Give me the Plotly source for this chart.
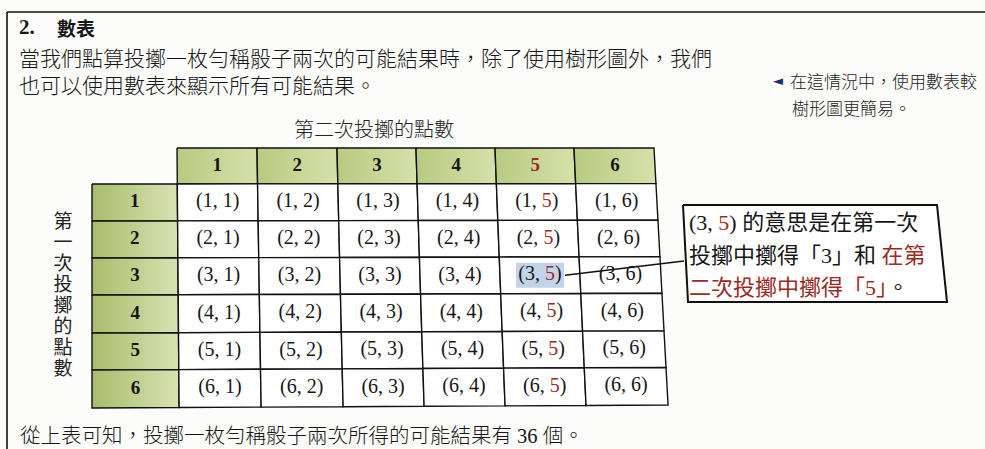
import plotly.graph_objects as go

# ---------------- data ----------------
FIRST_ROLL = [1, 2, 3, 4, 5, 6]          # rows
SECOND_ROLL = [1, 2, 3, 4, 5, 6]         # columns
RED_VALUE = 5                            # second-roll value printed in red
EXAMPLE_CELL = (3, 5)                    # highlighted outcome

TITLE_NUM = "2."
TITLE_TEXT = "數表"
PARAGRAPH = [
    "當我們點算投擲一枚勻稱骰子兩次的可能結果時，除了使用樹形圖外，我們",
    "也可以使用數表來顯示所有可能結果。",
]
COL_TITLE = "第二次投擲的點數"
ROW_TITLE = "第一次投擲的點數"
SIDE_NOTE = ["在這情況中，使用數表較", "樹形圖更簡易。"]
CALLOUT_PARTS = [
    [("(3, ", "k"), ("5", "r"), (") 的意思是在第一次", "k")],
    [("投擲中擲得「3」和 ", "k"), ("在第", "r")],
    [("二次投擲中擲得「5」", "r"), ("。", "k")],
]
CONCLUSION = "從上表可知，投擲一枚勻稱骰子兩次所得的可能結果有 36 個。"

# ---------------- styling / geometry ----------------
W, H = 985, 449
RED = "#9a2a24"
INK = "#161616"
SERIF = "Liberation Serif, Noto Sans CJK TC"
CJK = "Noto Sans CJK TC"
BG = "#fcfcfa"

COL_EDGES = [0, 85, 165, 245, 324, 403, 482, 562]   # table column units
ROW_EDGES = [0, 36, 73, 110, 147, 185, 222, 260]    # table row units
ORIGIN = (92, 148)


def P(u, v):
    """map table units to page coordinates (slightly skewed scan)"""
    x = ORIGIN[0] + u * (1 + 0.025 * v / ROW_EDGES[-1])
    y = ORIGIN[1] + v - 3 * (u / COL_EDGES[-1]) * (v / ROW_EDGES[-1])
    return x, y


def cell_poly(c, r):
    u0, u1 = COL_EDGES[c], COL_EDGES[c + 1]
    v0, v1 = ROW_EDGES[r], ROW_EDGES[r + 1]
    pts = [P(u0, v0), P(u1, v0), P(u1, v1), P(u0, v1), P(u0, v0)]
    return [p[0] for p in pts], [p[1] for p in pts]


def cell_center(c, r):
    return P((COL_EDGES[c] + COL_EDGES[c + 1]) / 2, (ROW_EDGES[r] + ROW_EDGES[r + 1]) / 2)


fig = go.Figure()

# ---- cells ----
n_cols = len(SECOND_ROLL) + 1
n_rows = len(FIRST_ROLL) + 1
for r in range(n_rows):
    for c in range(n_cols):
        if r == 0 and c == 0:
            continue
        xs, ys = cell_poly(c, r)
        kw = dict(x=xs, y=ys, mode="lines", fill="toself",
                  line=dict(color="#111", width=1.4),
                  hoverinfo="skip", showlegend=False)
        if r == 0:
            kw["fillgradient"] = dict(type="horizontal",
                                      colorscale=[[0, "#b8ca80"], [1, "#d6e1aa"]])
        elif c == 0:
            kw["fillgradient"] = dict(type="horizontal",
                                      colorscale=[[0, "#a8bd6c"], [1, "#d8e2b2"]])
        else:
            kw["fillcolor"] = "#ffffff"
        fig.add_trace(go.Scatter(**kw))

# ---- highlight of example cell (drawn as a trace so it sits under the text) ----
ex_c = SECOND_ROLL.index(EXAMPLE_CELL[1]) + 1
ex_r = FIRST_ROLL.index(EXAMPLE_CELL[0]) + 1
ecx, ecy = cell_center(ex_c, ex_r)
hx0, hx1, hy0, hy1 = ecx - 24, ecx + 24, ecy - 12.5, ecy + 12.5
fig.add_trace(go.Scatter(x=[hx0, hx1, hx1, hx0, hx0], y=[hy0, hy0, hy1, hy1, hy0],
                         mode="lines", fill="toself", fillcolor="#c3d3ea",
                         line=dict(width=0, color="#c3d3ea"),
                         hoverinfo="skip", showlegend=False))


def red(s):
    return f"<span style='color:{RED}'>{s}</span>"


# ---- header texts ----
hx, hy, ht = [], [], []
for j, v in enumerate(SECOND_ROLL):
    x, y = cell_center(j + 1, 0)
    hx.append(x); hy.append(y)
    ht.append(f"<b>{red(v) if v == RED_VALUE else v}</b>")
for i, v in enumerate(FIRST_ROLL):
    x, y = cell_center(0, i + 1)
    hx.append(x); hy.append(y)
    ht.append(f"<b>{v}</b>")
fig.add_trace(go.Scatter(x=hx, y=hy, text=ht, mode="text",
                         textfont=dict(family=SERIF, size=19, color=INK),
                         hoverinfo="skip", showlegend=False))

# ---- body texts ----
bx, by, bt = [], [], []
for i, a in enumerate(FIRST_ROLL):
    for j, b in enumerate(SECOND_ROLL):
        x, y = cell_center(j + 1, i + 1)
        bx.append(x); by.append(y)
        bt.append(f"({a}, {red(b) if b == RED_VALUE else b})")
fig.add_trace(go.Scatter(x=bx, y=by, text=bt, mode="text",
                         textfont=dict(family=SERIF, size=20, color=INK),
                         hoverinfo="skip", showlegend=False))

# ---- vertical row title ----
fig.add_trace(go.Scatter(x=[63] * len(ROW_TITLE),
                         y=[223 + 21 * k for k in range(len(ROW_TITLE))],
                         text=list(ROW_TITLE), mode="text",
                         textfont=dict(family=CJK, size=19, color="#222"),
                         hoverinfo="skip", showlegend=False))

# ---- callout box ----
box = [(683, 205), (937, 205), (947, 302), (688, 302), (683, 205)]
fig.add_trace(go.Scatter(x=[p[0] for p in box], y=[p[1] for p in box], mode="lines",
                         fill="toself", fillcolor="#ffffff",
                         line=dict(color="#111", width=2),
                         hoverinfo="skip", showlegend=False))
fig.add_shape(type="line", xref="x", yref="y", x0=hx1 + 1, y0=ecy, x1=684, y1=261,
              line=dict(color="#111", width=1.6), layer="above")

for k, parts in enumerate(CALLOUT_PARTS):
    txt = "".join(red(s) if c == "r" else s for s, c in parts)
    fig.add_annotation(x=687, y=[222, 255, 287][k], xref="x", yref="y", text=txt,
                       showarrow=False, xanchor="left", yanchor="middle",
                       font=dict(family=SERIF, size=22, color=INK))

# ---- prose ----
fig.add_annotation(x=17, y=27, xref="x", yref="y",
                   text=f"<b>{TITLE_NUM}</b>", showarrow=False, xanchor="left",
                   yanchor="middle", font=dict(family=SERIF, size=21, color=INK))
fig.add_annotation(x=55, y=27, xref="x", yref="y",
                   text=f"<b>{TITLE_TEXT}</b>", showarrow=False, xanchor="left",
                   yanchor="middle", font=dict(family=CJK, size=19, color=INK))
for k, line in enumerate(PARAGRAPH):
    fig.add_annotation(x=17, y=[57, 84][k], xref="x", yref="y", text=line,
                       showarrow=False, xanchor="left", yanchor="middle",
                       font=dict(family=CJK, size=21, color=INK, weight=300))
fig.add_annotation(x=374, y=128, xref="x", yref="y", text=COL_TITLE,
                   showarrow=False, xanchor="center", yanchor="middle",
                   font=dict(family=CJK, size=20, color="#222", weight=300))
fig.add_annotation(x=771, y=80, xref="x", yref="y", text="◄",
                   showarrow=False, xanchor="left", yanchor="middle",
                   font=dict(family="DejaVu Sans", size=13, color="#1f2a7a"))
for k, line in enumerate(SIDE_NOTE):
    fig.add_annotation(x=[788, 790][k], y=[80, 107][k], xref="x", yref="y", text=line,
                       showarrow=False, xanchor="left", yanchor="middle",
                       font=dict(family=CJK, size=17, color="#222", weight=300))
fig.add_annotation(x=18, y=436, xref="x", yref="y", text=CONCLUSION,
                   showarrow=False, xanchor="left", yanchor="middle",
                   font=dict(family=SERIF, size=20.5, color=INK, weight=300))

# ---- page frame lines ----
fig.add_shape(type="line", xref="x", yref="y", x0=7, y0=12, x1=985, y1=12,
              line=dict(color="#111", width=1.6))
fig.add_shape(type="line", xref="x", yref="y", x0=7, y0=12, x1=7, y1=449,
              line=dict(color="#111", width=1.6))

fig.update_layout(
    width=W, height=H, margin=dict(l=0, r=0, t=0, b=0),
    paper_bgcolor=BG, plot_bgcolor=BG,
    xaxis=dict(range=[0, W], visible=False, fixedrange=True),
    yaxis=dict(range=[H, 0], visible=False, fixedrange=True),
    showlegend=False,
)

fig.write_html("out.html", config={"displayModeBar": False},
               post_script="document.body.style.margin='0';document.body.style.overflow='hidden';")
